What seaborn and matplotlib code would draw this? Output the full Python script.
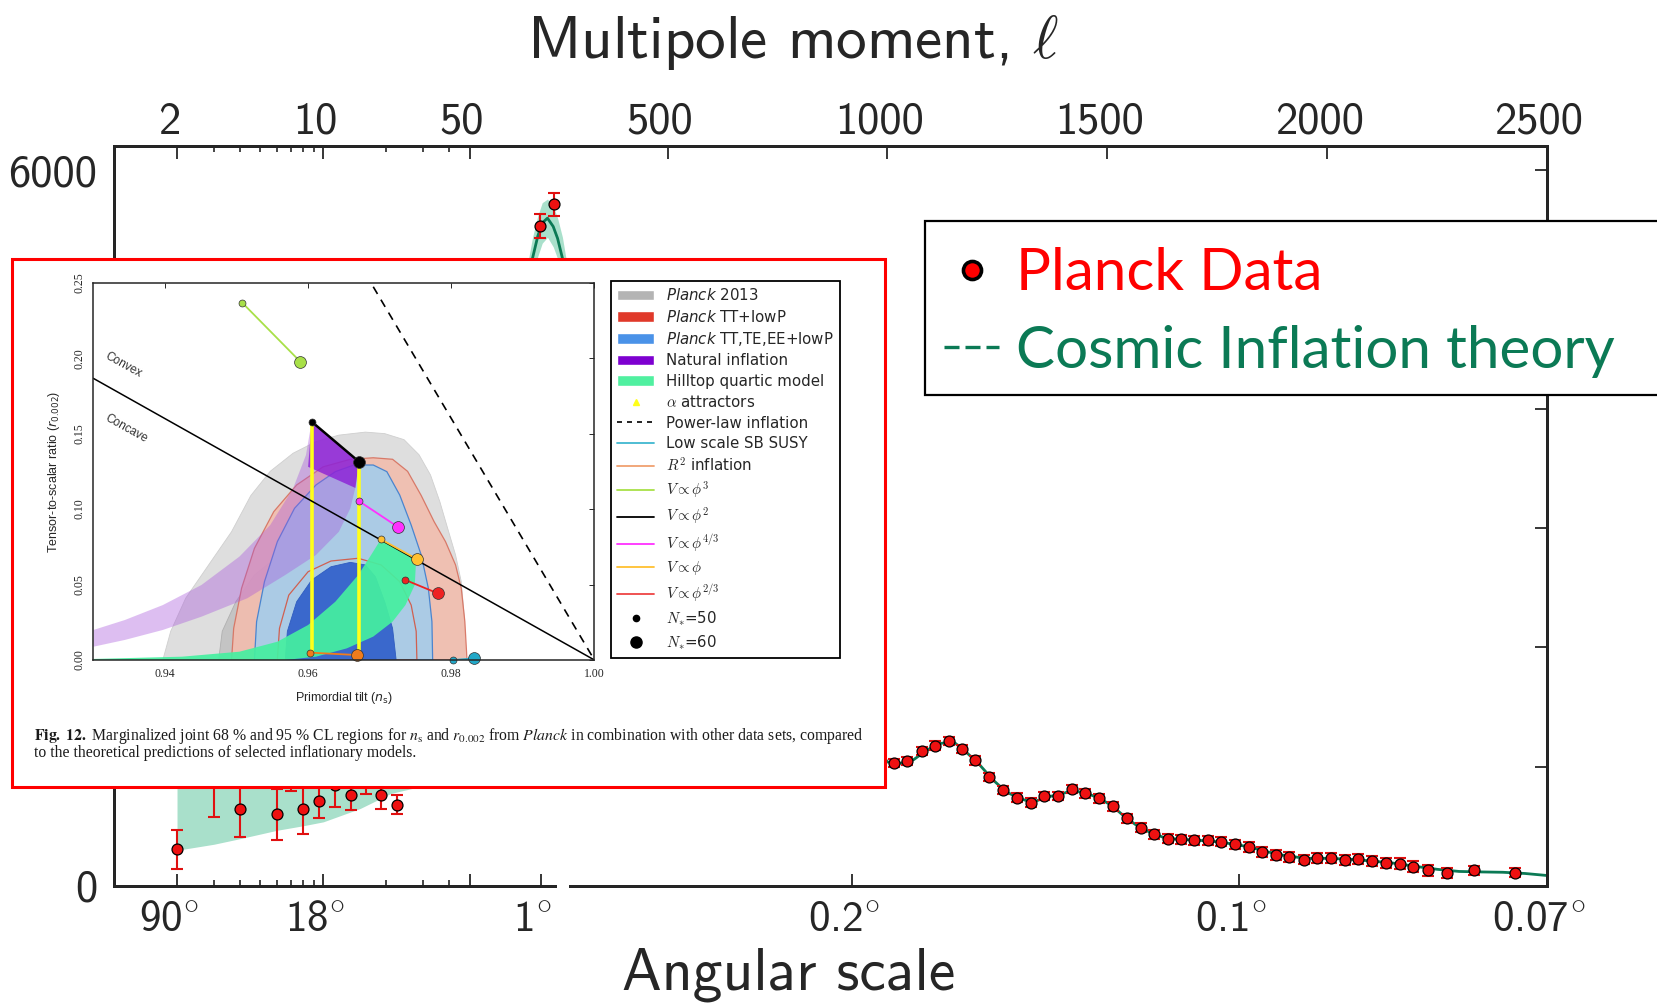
import numpy as np
import matplotlib
matplotlib.use("Agg")
import matplotlib.pyplot as plt
import seaborn as sns
from matplotlib.patches import Rectangle, Patch
from matplotlib.lines import Line2D
from matplotlib.transforms import ScaledTranslation

# ---------------- main chart data (Planck TT spectrum, D_ell in muK^2) ----------------
low_ell = [2, 3, 4, 6, 7, 8, 9.5, 11.4, 13.5, 16, 18.9, 22.4]
low_D = [307, 1000, 648, 601, 1050, 643, 712, 850, 760, 900, 760, 682]
low_err = [161, 422, 234, 216, 254, 210, 139, 185, 123, 132, 112, 81]

peak_ell = [210, 241]
peak_D = [5537, 5717]
peak_err = [102, 95]

high_ell = [1016, 1045, 1078, 1109, 1139, 1170, 1200, 1232, 1263, 1294, 1326, 1357, 1388,
            1420, 1450, 1482, 1514, 1544, 1576, 1607, 1637, 1668, 1698, 1729, 1759, 1791,
            1822, 1853, 1884, 1914, 1947, 1978, 2008, 2040, 2071, 2102, 2134, 2165, 2196,
            2230, 2273, 2334, 2428]
high_D = [1028, 1047, 1131, 1178, 1215, 1150, 1053, 916, 804, 740, 698, 754, 754, 815, 776,
          734, 670, 567, 489, 433, 397, 391, 383, 383, 371, 349, 327, 285, 260, 243, 221,
          232, 237, 221, 223, 209, 195, 187, 162, 131, 112, 131, 112]
high_err = [34, 34, 35, 35, 35, 35, 35, 35, 35, 36, 36, 36, 36, 36, 36, 37, 37, 37, 37, 37,
            38, 38, 38, 38, 38, 39, 39, 39, 40, 40, 40, 41, 41, 42, 42, 43, 43, 44, 44, 45,
            42, 40, 40]

theory_ell = [2, 3, 4, 5, 6, 8, 10, 13, 16, 20, 25, 30, 40, 50, 70, 100, 130, 160, 180, 193,
              205, 215, 227, 240, 250, 261, 280, 300, 330, 370, 410, 450, 500, 540, 580, 630,
              680, 730, 780, 820, 860, 900, 950, 1000, 1030, 1060, 1090, 1120, 1150, 1180,
              1210, 1240, 1270, 1300, 1330, 1360, 1390, 1420, 1450, 1480, 1510, 1540, 1570,
              1600, 1630, 1660, 1700, 1740, 1780, 1820, 1860, 1900, 1950, 2000, 2050, 2100,
              2150, 2200, 2250, 2300, 2350, 2400, 2450, 2500]
theory_D = [1000, 960, 920, 890, 870, 840, 830, 830, 840, 860, 900, 960, 1100, 1300, 1750,
            2600, 3500, 4550, 5000, 5264, 5450, 5560, 5600, 5530, 5430, 5264, 4850, 4250,
            3300, 2300, 1850, 1950, 2350, 2550, 2400, 2050, 1800, 2050, 2400, 2480, 2250,
            1800, 1300, 1040, 1030, 1060, 1140, 1195, 1210, 1120, 1015, 890, 790, 735, 700,
            745, 765, 800, 780, 740, 675, 580, 500, 445, 405, 392, 385, 375, 355, 330, 290,
            258, 232, 232, 225, 210, 192, 165, 140, 122, 118, 115, 105, 88]

band_ell = [2, 3, 4, 6, 8, 10, 15, 21, 30, 40, 50, 70, 100, 130, 160, 180, 193, 205, 215,
            227, 240, 250, 261, 280, 300, 330]
band_lo = [300, 350, 397, 467, 505, 538, 650, 776, 840, 990, 1180, 1620, 2450, 3330, 4370,
           4820, 5090, 5280, 5390, 5440, 5360, 5260, 5090, 4680, 4080, 3140]
band_hi = [1700, 1570, 1443, 1273, 1175, 1122, 1030, 950, 1080, 1210, 1420, 1880, 2750,
           3670, 4730, 5180, 5440, 5620, 5730, 5760, 5700, 5600, 5440, 5020, 4420, 3460]

top_ticks = [2, 10, 50, 500, 1000, 1500, 2000, 2500]
top_labels = ["2", "10", "50", "500", "1000", "1500", "2000", "2500"]
minor_ticks = [3, 4, 5, 6, 7, 8, 9, 20, 30, 40]
bottom_ticks = [2, 10, 50, 212, 920, 1800, 2500]
bottom_labels = [r"90$^{\circ}$", r"18$^{\circ}$", "", r"1$^{\circ}$", r"0.2$^{\circ}$",
                 r"0.1$^{\circ}$", r"0.07$^{\circ}$"]
y_ticks = [0, 1000, 2000, 3000, 4000, 5000, 6000]
y_labels = ["0", "", "", "", "", "", "6000"]

# ---------------- inset data (n_s, r) ----------------
p13_95_ns = [0.9397, 0.9408, 0.9429, 0.9461, 0.9493, 0.9520, 0.9547, 0.9579, 0.9611, 0.9643,
             0.9680, 0.9707, 0.9734, 0.9755, 0.9771, 0.9784, 0.9795, 0.9806, 0.9814, 0.9818, 0.9819]
p13_95_r = [0.0, 0.019, 0.041, 0.063, 0.085, 0.109, 0.125, 0.137, 0.1447, 0.149, 0.151, 0.150,
            0.146, 0.136, 0.1226, 0.105, 0.0872, 0.0696, 0.0519, 0.0298, 0.0]
p13_68_ns = [0.9475, 0.9480, 0.9499, 0.9525, 0.9557, 0.9595, 0.9638, 0.9675, 0.9707, 0.9734,
             0.9747, 0.9752, 0.9754]
p13_68_r = [0.0, 0.019, 0.0386, 0.0563, 0.0685, 0.0744, 0.0757, 0.074, 0.0685, 0.0563,
            0.0386, 0.019, 0.0]
tt_95_ns = [0.9493, 0.9496, 0.9507, 0.9525, 0.9552, 0.9584, 0.9621, 0.9659, 0.9691, 0.9718,
            0.9739, 0.9758, 0.9776, 0.9792, 0.9806, 0.9814, 0.9819, 0.9822]
tt_95_r = [0.0, 0.021, 0.0475, 0.074, 0.0983, 0.116, 0.128, 0.133, 0.134, 0.133, 0.125,
           0.109, 0.0917, 0.0784, 0.063, 0.0475, 0.0254, 0.0]
tt_68_ns = [0.9557, 0.9560, 0.9573, 0.9600, 0.9632, 0.9670, 0.9702, 0.9728, 0.9744, 0.9751, 0.9752]
tt_68_r = [0.0, 0.021, 0.043, 0.0585, 0.0656, 0.0674, 0.063, 0.0519, 0.0364, 0.019, 0.0]
pol_95_ns = [0.9525, 0.9528, 0.9539, 0.9557, 0.9581, 0.9611, 0.9638, 0.9664, 0.9691, 0.9710,
             0.9728, 0.9744, 0.9758, 0.9768, 0.9773, 0.9774]
pol_95_r = [0.0, 0.0254, 0.0519, 0.0784, 0.1005, 0.116, 0.1248, 0.1292, 0.1292, 0.1248,
            0.1093, 0.0894, 0.0696, 0.0475, 0.0254, 0.0]
pol_68_ns = [0.9568, 0.9571, 0.9584, 0.9605, 0.9632, 0.9659, 0.9680, 0.9694, 0.9707, 0.9718, 0.9723]
pol_68_r = [0.0, 0.019, 0.0386, 0.053, 0.0618, 0.0647, 0.063, 0.0552, 0.0386, 0.021, 0.0]
natural_ns = [0.9300, 0.9344, 0.9397, 0.9451, 0.9504, 0.9547, 0.9579, 0.9597, 0.9605, 0.9671,
              0.9667, 0.9659, 0.9643, 0.9611, 0.9568, 0.9515, 0.9451, 0.9397, 0.9344, 0.9300]
natural_r = [0.0199, 0.0265, 0.0364, 0.0497, 0.0685, 0.0894, 0.1137, 0.1358, 0.158, 0.1314,
             0.116, 0.1005, 0.085, 0.0696, 0.0563, 0.0409, 0.0287, 0.0199, 0.0133, 0.0088]
natural_top_ns = [0.9605, 0.9671, 0.9666, 0.9600]
natural_top_r = [0.158, 0.1314, 0.114, 0.128]
hilltop_ns = [0.9300, 0.9424, 0.9504, 0.9557, 0.9600, 0.9638, 0.9670, 0.9688, 0.9701, 0.9751,
              0.9749, 0.9736, 0.9718, 0.9691, 0.9654, 0.9611, 0.9568, 0.9300]
hilltop_r = [0.0007, 0.0022, 0.0055, 0.0121, 0.0232, 0.0386, 0.0563, 0.0696, 0.0795, 0.0669,
             0.0497, 0.0364, 0.0254, 0.0155, 0.0077, 0.0022, 0.0, 0.0]
alpha_ns = [0.9605, 0.9671]
alpha_r_top = [0.158, 0.1314]
alpha_r_bot = [0.004, 0.003]
divider_ns = [0.93, 1.00]
divider_r = [0.1866, 0.0]
powerlaw_ns = [0.9691, 1.00]
powerlaw_r = [0.2473, 0.0]
models = {
    "phi3": ([0.9508, 0.9589], [0.2367, 0.1977], "#a8e048"),
    "phi2": ([0.9605, 0.9671], [0.1579, 0.1314], "#000000"),
    "phi43": ([0.9671, 0.9725], [0.1053, 0.0883], "#ff30ff"),
    "phi1": ([0.9702, 0.9752], [0.0799, 0.0669], "#ffc030"),
    "phi23": ([0.9736, 0.9781], [0.0530, 0.0442], "#ee2222"),
    "R2": ([0.9602, 0.9668], [0.0049, 0.0033], "#f07c1c"),
    "susy": ([0.9803, 0.9832], [0.0000, 0.0010], "#22a8c8"),
}

# ---------------- style ----------------
sns.set_style("white")
plt.rcParams["font.family"] = ["DejaVu Sans"]
plt.rcParams["mathtext.fontset"] = "cm"
plt.rcParams["axes.unicode_minus"] = False

GREEN = "#0b7a55"
BAND = "#a9e0cb"
RED = "#ee1111"


def fwd(l):
    l = np.asarray(l, dtype=float)
    lc = np.clip(l, 1e-6, None)
    return np.where(l <= 50, 208.9 * np.log10(lc), 354.9 + (l - 50) * 0.4388)


def inv(p):
    p = np.asarray(p, dtype=float)
    return np.where(p <= 354.9, 10 ** (np.minimum(p, 354.9) / 208.9), 50 + (p - 354.9) / 0.4388)


fig = plt.figure(figsize=(16.58, 10.08), dpi=100)
ax = fig.add_axes([114 / 1658, 1 - 886 / 1008, (1547 - 114) / 1658, (886 - 146) / 1008])
ax.set_xscale("function", functions=(fwd, inv))
ax.set_xlim(1, 2500)
ax.set_ylim(0, 6205)

ax.fill_between(band_ell, band_lo, band_hi, color=BAND, lw=0, zorder=1)
sns.lineplot(x=theory_ell, y=theory_D, ax=ax, color=GREEN, lw=2.0, sort=False,
             estimator=None, zorder=2)
for ell, D, err in [(low_ell, low_D, low_err), (peak_ell, peak_D, peak_err),
                    (high_ell, high_D, high_err)]:
    ax.errorbar(ell, D, yerr=err, fmt="none", ecolor="#e01010", elinewidth=1.5,
                capsize=4.5, capthick=1.5, zorder=3)
    sns.scatterplot(x=ell, y=D, ax=ax, s=62, color=RED, edgecolor="black",
                    linewidth=0.9, zorder=4, legend=False)

for sp in ax.spines.values():
    sp.set_linewidth(2.0)
    sp.set_color("black")

ax.set_xticks(bottom_ticks)
ax.set_xticklabels(bottom_labels, fontfamily="cmss10", fontsize=31)
ax.set_xticks(minor_ticks, minor=True)
ax.set_yticks(y_ticks)
ax.set_yticklabels(y_labels, fontfamily="cmss10", fontsize=32)
ax.tick_params(axis="both", which="major", direction="in", length=9, width=1.3,
               right=True, top=False)
ax.tick_params(axis="x", which="major", pad=11)
ax.tick_params(axis="y", which="major", pad=12)
ax.tick_params(axis="x", which="minor", direction="in", length=4.5, width=1.2, top=False)
ax.set_xlabel("")
ax.set_ylabel("")

ax2 = ax.twiny()
ax2.set_xscale("function", functions=(fwd, inv))
ax2.set_xlim(1, 2500)
ax2.set_xticks(top_ticks)
ax2.set_xticklabels(top_labels, fontfamily="cmss10", fontsize=32)
ax2.set_xticks(minor_ticks, minor=True)
ax2.tick_params(axis="x", which="major", direction="in", length=9, width=1.3, pad=2.5)
ax2.tick_params(axis="x", which="minor", direction="in", length=4.5, width=1.2)
for sp in ax2.spines.values():
    sp.set_linewidth(2.0)

# the tick labels of the original sit slightly left of their ticks
shift = ScaledTranslation(-8 / 100, 0, fig.dpi_scale_trans)
for tk in ax.xaxis.get_major_ticks() + ax2.xaxis.get_major_ticks():
    for lab in (tk.label1, tk.label2):
        lab.set_transform(lab.get_transform() + shift)

fig.text(793 / 1658, 1 - 43 / 1008, r"Multipole moment, $\ell$", fontfamily="cmss10",
         fontsize=44, ha="center", va="center")
fig.text(789 / 1658, 1 - 975 / 1008, "Angular scale", fontfamily="cmss10", fontsize=43,
         ha="center", va="center")

# small white gap in the bottom spine
fig.add_artist(Rectangle((557 / 1658, 1 - 945 / 1008), 12 / 1658, (945 - 878) / 1008,
                         transform=fig.transFigure, fc="white", ec="none", zorder=6))

# ---------------- main legend ----------------
fig.add_artist(Rectangle((925 / 1658, 1 - 395 / 1008), 0.5, (395 - 221) / 1008,
                         transform=fig.transFigure, fc="white", ec="black", lw=1.6, zorder=1))
h1 = Line2D([], [], ls="none", marker="o", ms=13, mfc="red", mec="black", mew=2.6)
h2 = Line2D([], [], ls=(0, (4.5, 1.8)), color=GREEN, lw=2.4)
leg = fig.legend([h1, h2], ["Planck Data", "Cosmic Inflation theory"], loc="upper left",
                 bbox_to_anchor=(944 / 1658, 1 - 247 / 1008), frameon=False,
                 prop={"family": "Lato", "size": 42}, labelcolor=["#ff0000", GREEN],
                 handlelength=0.95, handletextpad=0.28, labelspacing=0.42, borderpad=0,
                 borderaxespad=0)
leg.set_zorder(5)

# ---------------- inset figure ----------------
fig.add_artist(Rectangle((12 / 1658, 1 - 786.7 / 1008), (885.5 - 12) / 1658,
                         (786.7 - 259) / 1008, transform=fig.transFigure, fc="white",
                         ec="red", lw=2.2, zorder=1))
iax = fig.add_axes([93.4 / 1658, 1 - 660 / 1008, (594.4 - 93.4) / 1658, (660 - 282.7) / 1008])
iax.set_zorder(2)
iax.set_facecolor("white")
iax.set_xlim(0.93, 1.00)
iax.set_ylim(0, 0.25)

iax.fill(p13_95_ns, p13_95_r, fc="#dedede", ec="#cfcfcf", lw=0.6, zorder=1)
iax.fill(p13_68_ns, p13_68_r, fc="#c4c4c4", ec="#b0b0b0", lw=0.6, zorder=1.1)
iax.fill(tt_95_ns, tt_95_r, fc="#f2bdae", ec="#d6705e", lw=0.9, alpha=0.9, zorder=1.2)
iax.fill(pol_95_ns, pol_95_r, fc="#a6cdea", ec="#3f7fcf", lw=0.9, alpha=0.92, zorder=1.3)
iax.fill(tt_68_ns, tt_68_r, fc="none", ec="#d06050", lw=0.9, zorder=1.4)
iax.fill(pol_68_ns, pol_68_r, fc="#3a68cc", ec="#2f5cc0", lw=0.6, zorder=1.5)
iax.fill(natural_ns, natural_r, fc="#a855dc", ec="none", alpha=0.38, zorder=1.6)
iax.fill(natural_top_ns, natural_top_r, fc="#8c1fd6", ec="none", alpha=0.8, zorder=1.65)
iax.fill(hilltop_ns, hilltop_r, fc="#45f0a0", ec="none", alpha=0.92, zorder=1.7)
for x, y0, y1 in zip(alpha_ns, alpha_r_bot, alpha_r_top):
    iax.plot([x, x], [y0, y1], color="#ffff1a", lw=2.6, zorder=2)
iax.plot(divider_ns, divider_r, color="black", lw=1.1, zorder=2.1)
iax.plot(powerlaw_ns, powerlaw_r, color="black", lw=1.2, ls=(0, (5, 4)), zorder=2.1)
for name, (xs, ys, c) in models.items():
    iax.plot(xs, ys, color=c, lw=1.3 if name != "phi2" else 1.8, zorder=2.2)
    iax.plot(xs[0], ys[0], "o", ms=5, mfc=c, mec="#333333", mew=0.5, zorder=2.3, clip_on=False)
    iax.plot(xs[1], ys[1], "o", ms=8.5, mfc=c, mec="#333333", mew=0.5, zorder=2.3, clip_on=False)

iax.text(0.9342, 0.1954, "Convex", rotation=-29, ha="center", va="center",
         fontsize=8.5, fontfamily="Liberation Sans", color="#333333", zorder=3)
iax.text(0.9346, 0.1535, "Concave", rotation=-29, ha="center", va="center",
         fontsize=8.5, fontfamily="Liberation Sans", color="#333333", zorder=3)

iax.set_xticks([0.94, 0.96, 0.98, 1.00])
iax.set_xticklabels(["0.94", "0.96", "0.98", "1.00"], fontfamily="Liberation Serif", fontsize=8.5)
iax.set_yticks([0.0, 0.05, 0.10, 0.15, 0.20, 0.25])
iax.set_yticklabels(["0.00", "0.05", "0.10", "0.15", "0.20", "0.25"],
                    fontfamily="Liberation Serif", fontsize=8.5, rotation=90, va="center")
iax.tick_params(direction="in", length=3.5, width=0.7, pad=6, top=True, right=True)
for sp in iax.spines.values():
    sp.set_linewidth(1.1)
iax.set_xlabel(r"Primordial tilt ($n_{\rm s}$)", fontfamily="Liberation Sans", fontsize=9,
               labelpad=7)
iax.set_ylabel(r"Tensor-to-scalar ratio ($r_{0.002}$)", fontfamily="Liberation Sans",
               fontsize=9, labelpad=8)
iax.xaxis.label.set_math_fontfamily("dejavusans")
iax.yaxis.label.set_math_fontfamily("dejavusans")

handles = [
    Patch(fc="#b4b4b4"), Patch(fc="#e0392a"), Patch(fc="#4a92e8"), Patch(fc="#7d00d0"),
    Patch(fc="#50f0a0"),
    Line2D([], [], ls="none", marker="^", ms=5, mfc="#ffff1a", mec="#ffff1a"),
    Line2D([], [], color="black", ls=(0, (3, 3)), lw=1.2),
    Line2D([], [], color="#40b8d0", lw=1.3),
    Line2D([], [], color="#f0a070", lw=1.3),
    Line2D([], [], color="#a8e048", lw=1.3),
    Line2D([], [], color="black", lw=1.3),
    Line2D([], [], color="#ff30ff", lw=1.3),
    Line2D([], [], color="#ffc030", lw=1.3),
    Line2D([], [], color="#ee4444", lw=1.3),
    Line2D([], [], ls="none", marker="o", ms=4.5, color="black"),
    Line2D([], [], ls="none", marker="o", ms=8, color="black"),
]
labels = [r"$\mathit{Planck}$ 2013", r"$\mathit{Planck}$ TT+lowP",
          r"$\mathit{Planck}$ TT,TE,EE+lowP", "Natural inflation", "Hilltop quartic model",
          r"$\alpha$ attractors", "Power-law inflation", "Low scale SB SUSY",
          r"$R^2$ inflation", r"$V\propto\phi^3$", r"$V\propto\phi^2$",
          r"$V\propto\phi^{4/3}$", r"$V\propto\phi$", r"$V\propto\phi^{2/3}$",
          r"$N_{*}$=50", r"$N_{*}$=60"]
ileg = iax.legend(handles, labels, loc="upper left", bbox_to_anchor=(1.033, 1.004),
                  borderaxespad=0, frameon=True, fancybox=False, edgecolor="black",
                  framealpha=1, prop={"family": "DejaVu Sans", "size": 10.8},
                  handlelength=2.5, handletextpad=0.8, labelspacing=0.36, borderpad=0.4)
ileg.get_frame().set_linewidth(1.3)
for t in ileg.get_texts():
    if "Planck" in t.get_text():
        t.set_math_fontfamily("dejavusans")

cap1 = (r"$\mathbf{Fig.\ 12.}$ Marginalized joint 68 % and 95 % CL regions for $n_{\rm s}$ and "
        r"$r_{0.002}$ from $\mathit{Planck}$ in combination with other data sets, compared")
cap2 = "to the theoretical predictions of selected inflationary models."
for txt, yy in [(cap1, 736), (cap2, 753)]:
    t = fig.text(34 / 1658, 1 - yy / 1008, txt, fontfamily="Liberation Serif", fontsize=11.35,
                 ha="left", va="center", color="#1a1a1a")
    t.set_math_fontfamily("stix")

fig.savefig("out.png", dpi=100)
